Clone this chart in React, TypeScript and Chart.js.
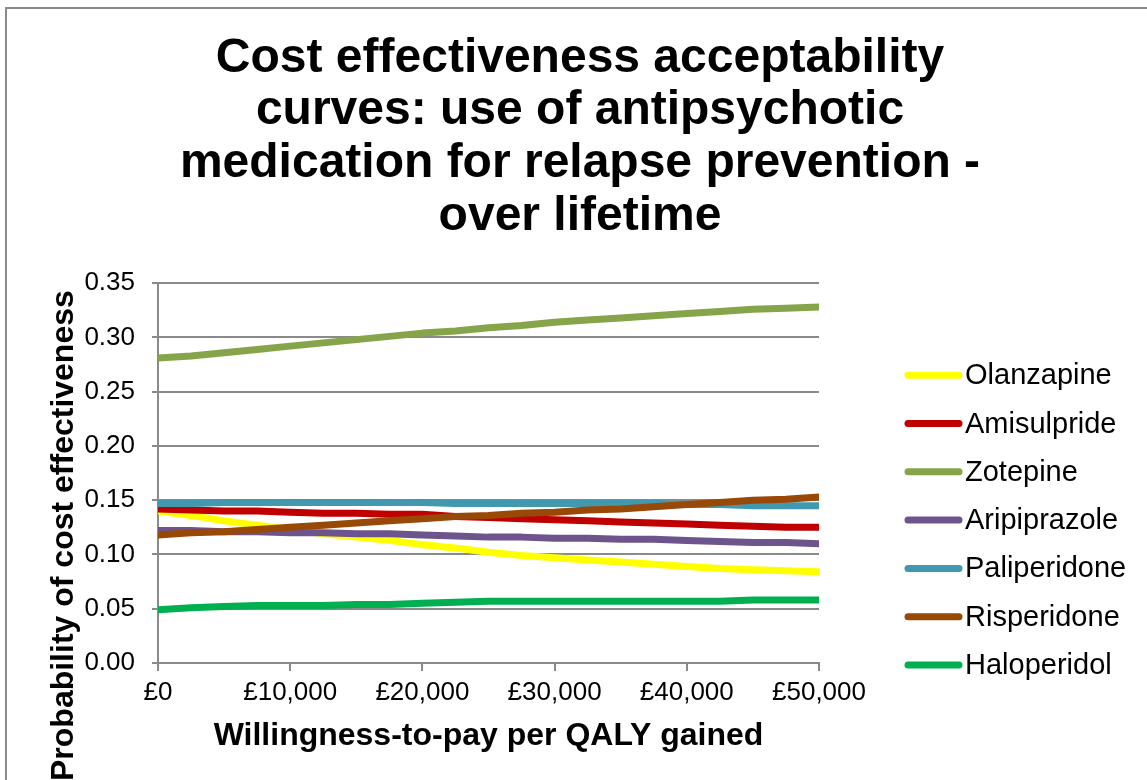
import React, { useEffect, useRef } from "react";
import { Chart, registerables } from "chart.js";

Chart.register(...registerables);

// Willingness-to-pay thresholds (£ per QALY)
const wtp = [
  0, 2500, 5000, 7500, 10000, 12500, 15000, 17500, 20000, 22500, 25000,
  27500, 30000, 32500, 35000, 37500, 40000, 42500, 45000, 47500, 50000,
];

const olanzapine = [
  0.140, 0.136, 0.131, 0.127, 0.123, 0.119, 0.116, 0.113, 0.109, 0.106, 0.102,
  0.099, 0.097, 0.095, 0.093, 0.091, 0.089, 0.087, 0.086, 0.085, 0.084,
];
const amisulpride = [
  0.142, 0.141, 0.140, 0.140, 0.139, 0.138, 0.138, 0.137, 0.137, 0.135, 0.134,
  0.133, 0.132, 0.131, 0.130, 0.129, 0.128, 0.127, 0.126, 0.125, 0.125,
];
const zotepine = [
  0.281, 0.283, 0.286, 0.289, 0.292, 0.295, 0.298, 0.301, 0.304, 0.306, 0.309,
  0.311, 0.314, 0.316, 0.318, 0.320, 0.322, 0.324, 0.326, 0.327, 0.328,
];
const aripiprazole = [
  0.122, 0.122, 0.121, 0.121, 0.120, 0.120, 0.119, 0.119, 0.118, 0.117, 0.116,
  0.116, 0.115, 0.115, 0.114, 0.114, 0.113, 0.112, 0.111, 0.111, 0.110,
];
const paliperidone = [
  0.147, 0.147, 0.148, 0.148, 0.148, 0.148, 0.148, 0.148, 0.148, 0.147, 0.147,
  0.147, 0.147, 0.147, 0.147, 0.147, 0.146, 0.146, 0.145, 0.145, 0.145,
];
const risperidone = [
  0.118, 0.120, 0.121, 0.123, 0.125, 0.127, 0.129, 0.131, 0.133, 0.135, 0.136,
  0.138, 0.139, 0.141, 0.142, 0.144, 0.146, 0.148, 0.150, 0.151, 0.153,
];
const haloperidol = [
  0.049, 0.051, 0.052, 0.053, 0.053, 0.053, 0.054, 0.054, 0.055, 0.056, 0.057,
  0.057, 0.057, 0.057, 0.057, 0.057, 0.057, 0.057, 0.058, 0.058, 0.058,
];

const seriesNames = [
  "Olanzapine",
  "Amisulpride",
  "Zotepine",
  "Aripiprazole",
  "Paliperidone",
  "Risperidone",
  "Haloperidol",
];
const seriesColors = [
  "#FFFF00",
  "#C00000",
  "#86A44A",
  "#6D548D",
  "#4198AF",
  "#984807",
  "#00B050",
];

const xTickStep = 10000;
const yTickStep = 0.05;
const yMax = 0.35;

const titleLines = [
  "Cost effectiveness acceptability",
  "curves: use of antipsychotic",
  "medication for relapse prevention -",
  "over lifetime",
];
const xTitle = "Willingness-to-pay per QALY gained";
const yTitle = "Probability of cost effectiveness";

const FONT = '"Liberation Sans", Arial, Helvetica, sans-serif';
const GRID = "#8a8a8a";
const LINE_WIDTH = 7;

// Rotated y-axis title, drawn on its own so it can sit lower than the axis midpoint
const yTitlePlugin = {
  id: "yTitle",
  afterDraw(chart: any) {
    const { ctx, chartArea } = chart;
    ctx.save();
    ctx.translate(chartArea.left - 85, chartArea.top + 7);
    ctx.rotate(-Math.PI / 2);
    ctx.font = `bold 32px ${FONT}`;
    ctx.fillStyle = "#000";
    ctx.textAlign = "right";
    ctx.textBaseline = "alphabetic";
    ctx.fillText(yTitle, 0, 0);
    ctx.restore();
  },
};

// Legend with line swatches to the right of the plot
const sideLegendPlugin = {
  id: "sideLegend",
  afterDraw(chart: any) {
    const { ctx, chartArea } = chart;
    ctx.save();
    ctx.font = `29px ${FONT}`;
    ctx.textBaseline = "middle";
    ctx.textAlign = "left";
    chart.data.datasets.forEach((ds: any, i: number) => {
      const y = chartArea.top + 92 + i * 48.3;
      const x0 = chartArea.right + 89;
      ctx.strokeStyle = ds.borderColor;
      ctx.lineWidth = LINE_WIDTH;
      ctx.lineCap = "round";
      ctx.beginPath();
      ctx.moveTo(x0, y);
      ctx.lineTo(x0 + 51, y);
      ctx.stroke();
      ctx.fillStyle = "#000";
      ctx.fillText(ds.label, x0 + 57, y + 1);
    });
    ctx.restore();
  },
};

export default function App() {
  const canvasRef = useRef<HTMLCanvasElement>(null);

  useEffect(() => {
    const canvas = canvasRef.current;
    if (!canvas) return;
    const series = [
      olanzapine,
      amisulpride,
      zotepine,
      aripiprazole,
      paliperidone,
      risperidone,
      haloperidol,
    ];
    const datasets = seriesNames.map((name, i) => ({
      label: name,
      data: wtp.map((x, j) => ({ x, y: series[i][j] })),
      borderColor: seriesColors[i],
      backgroundColor: seriesColors[i],
      borderWidth: LINE_WIDTH,
      borderCapStyle: "round" as const,
      borderJoinStyle: "round" as const,
      pointRadius: 0,
      pointHoverRadius: 0,
      tension: 0,
      fill: false,
      order: seriesNames.length - i,
    }));

    const chart = new Chart(canvas, {
      type: "line",
      data: { datasets },
      plugins: [yTitlePlugin, sideLegendPlugin],
      options: {
        responsive: false,
        animation: false,
        devicePixelRatio: 1,
        layout: { padding: { left: 13, right: 0, top: 0, bottom: 0 } },
        font: { family: FONT },
        color: "#000",
        plugins: {
          legend: { display: false },
          tooltip: { enabled: false },
          title: {
            display: true,
            text: titleLines,
            color: "#000",
            font: { family: FONT, size: 48, weight: "bold", lineHeight: 1.1 },
            padding: { top: 32, bottom: 40 },
          },
        },
        scales: {
          x: {
            type: "linear",
            min: 0,
            max: 50000,
            afterFit: (s: any) => {
              s.height = 117;
            },
            ticks: {
              stepSize: xTickStep,
              maxRotation: 0,
              autoSkip: false,
              color: "#000",
              padding: 6,
              font: { family: FONT, size: 26 },
              callback: (v: any) => "£" + Number(v).toLocaleString("en-GB"),
            },
            grid: {
              drawOnChartArea: false,
              drawTicks: true,
              tickLength: 8,
              color: GRID,
              lineWidth: 2,
            },
            border: { display: true, color: GRID, width: 2 },
            title: {
              display: true,
              text: xTitle,
              color: "#000",
              font: { family: FONT, size: 32, weight: "bold" },
              padding: { top: 0, bottom: 25 },
            },
          },
          y: {
            type: "linear",
            min: 0,
            max: yMax,
            afterFit: (s: any) => {
              s.width = 145;
            },
            ticks: {
              stepSize: yTickStep,
              color: "#000",
              padding: 17,
              font: { family: FONT, size: 26 },
              callback: (v: any) => Number(v).toFixed(2),
            },
            grid: {
              color: GRID,
              lineWidth: 2,
              tickLength: 6,
            },
            border: { display: true, color: GRID, width: 2 },
          },
          legendSpace: {
            type: "linear",
            position: "right",
            display: true,
            afterFit: (s: any) => {
              s.width = 328;
            },
            ticks: { display: false },
            grid: { display: false, drawTicks: false },
            border: { display: false },
          },
        },
      },
    } as any);

    return () => chart.destroy();
  }, []);

  return (
    <div
      style={{
        position: "fixed",
        left: 0,
        top: 0,
        width: 1147,
        height: 780,
        overflow: "hidden",
        background: "#fff",
      }}
    >
      <div
        style={{
          position: "absolute",
          left: 5,
          top: 7,
          width: 1400,
          height: 1000,
          border: `2px solid ${GRID}`,
        }}
      />
      <canvas
        ref={canvasRef}
        width={1147}
        height={780}
        style={{ position: "absolute", left: 0, top: 0, width: 1147, height: 780 }}
      />
    </div>
  );
}
